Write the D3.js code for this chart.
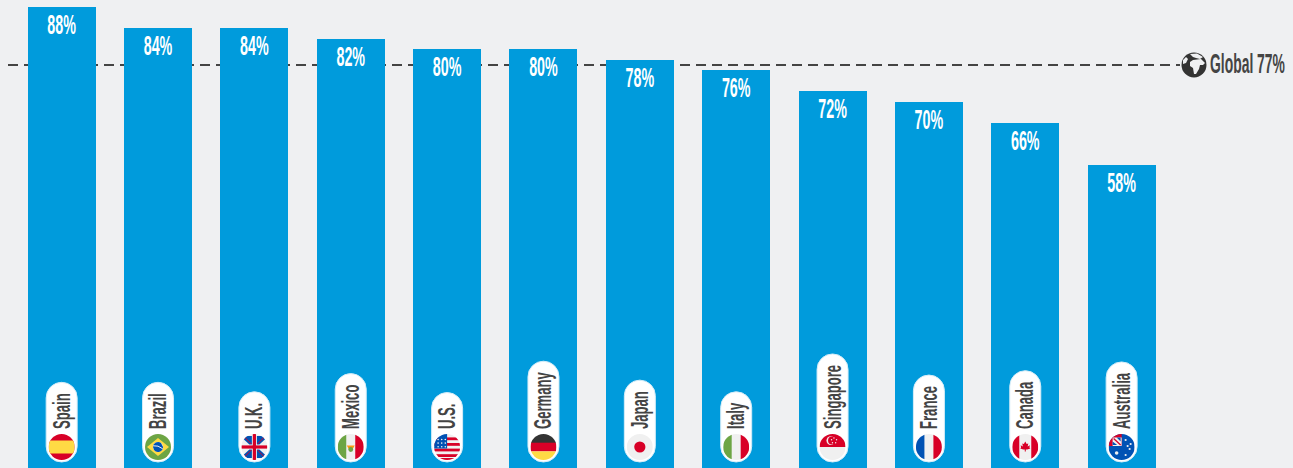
<!DOCTYPE html>
<html>
<head>
<meta charset="utf-8">
<script src="https://cdnjs.cloudflare.com/ajax/libs/d3/7.8.5/d3.min.js"></script>
<style>
  html, body { margin: 0; padding: 0; background: #eff0f2; overflow: hidden; }
  svg { display: block; }
  text { font-family: "Liberation Sans Narrow", "Liberation Sans", sans-serif; font-weight: 700; }
</style>
</head>
<body>
<svg id="chart" width="1293" height="468"></svg>
<script>
const countries = ["Spain", "Brazil", "U.K.", "Mexico", "U.S.", "Germany", "Japan", "Italy", "Singapore", "France", "Canada", "Australia"];
const shares = [88, 84, 84, 82, 80, 80, 78, 76, 72, 70, 66, 58];
const globalShare = 77;
const globalLabel = "Global 77%";

const BAR = "#009bdc", PAPER = "#eff0f2", INK = "#444444";
const RED = "#d80027", BLUE = "#0052b4", GREEN = "#6da544", YELLOW = "#ffda44", OFF = "#f0f0f0";

const svg = d3.select("#chart");
const x = d3.scaleBand().domain(countries).range([27.65, 1155.65]).paddingInner(0.294);
const y = d3.scaleLinear().domain([0, 88]).range([470.5, 7]);
const defs = svg.append("defs");
defs.append("clipPath").attr("id", "disc").append("circle").attr("r", 13);

// Dashed global reference line, running behind the bars
svg.append("line")
  .attr("x1", 8).attr("x2", 1180)
  .attr("y1", y(globalShare)).attr("y2", y(globalShare))
  .attr("stroke", INK).attr("stroke-width", 2).attr("stroke-dasharray", "10 6");

const bars = svg.selectAll("g.bar").data(countries.map((c, i) => ({ c, v: shares[i] })))
  .join("g").attr("class", "bar")
  .attr("transform", d => `translate(${x(d.c)},0)`);

bars.append("rect")
  .attr("y", d => y(d.v))
  .attr("width", x.bandwidth())
  .attr("height", d => y(0) - y(d.v))
  .attr("shape-rendering", "crispEdges")
  .attr("fill", BAR);

const mid = x.bandwidth() / 2;

// Percentage labels, squeezed horizontally for a tall condensed look
bars.append("text")
  .attr("transform", d => `translate(${mid},${y(d.v) + 27}) scale(0.53,1)`)
  .attr("text-anchor", "middle")
  .attr("font-size", 27)
  .attr("fill", "#fff")
  .text(d => d.v + "%");

// Rotated name pills with the flag at their foot
const PILL_W = 31, PILL_BOTTOM = 462, TEXT_FOOT = 429, NAME_SCALE = 0.57;
const pills = bars.append("g");
pills.append("rect")
  .attr("x", mid - PILL_W / 2).attr("width", PILL_W).attr("rx", PILL_W / 2)
  .attr("fill", "#fff").attr("stroke", "#d4ecf8").attr("stroke-width", 1);
const names = pills.append("text")
  .attr("transform", `translate(${mid + 8},${TEXT_FOOT}) rotate(-90) scale(${NAME_SCALE},1)`)
  .attr("font-size", 23)
  .attr("fill", INK)
  .text(d => d.c);
names.each(function () {
  const len = this.getComputedTextLength() * NAME_SCALE;
  const top = TEXT_FOOT - len - 11;
  d3.select(this.parentNode).select("rect").attr("y", top).attr("height", PILL_BOTTOM - top);
});

// Flag artwork in a local frame centred on the disc, radius 13
const flagArt = {
  "Spain": g => {
    band(g, -13, 26, RED); band(g, -6.5, 13, YELLOW);
  },
  "Brazil": g => {
    band(g, -13, 26, GREEN);
    g.append("path").attr("d", "M0,-9L11,0L0,9L-11,0Z").attr("fill", YELLOW);
    g.append("circle").attr("r", 5).attr("fill", OFF);
    g.append("path").attr("d", "M-5,0A5,5 0 0 1 3,-4L5,0A5,5 0 0 1 -4,3Z").attr("fill", BLUE);
    g.append("path").attr("d", "M-4.8,-1.2Q0,-2 4.7,1.8").attr("stroke", OFF).attr("stroke-width", 1).attr("fill", "none");
  },
  "U.K.": g => {
    band(g, -13, 26, OFF);
    const blue = ["M-11,-8L-5,-2.5H-2.5V-11H-8Z", "M11,-8L5,-2.5H2.5V-11H8Z", "M-11,8L-5,2.5H-2.5V11H-8Z", "M11,8L5,2.5H2.5V11H8Z"];
    blue.forEach(d => g.append("path").attr("d", d).attr("fill", BLUE));
    const diag = ["M-11,-11L-3,-3", "M11,-11L3,-3", "M-11,11L-3,3", "M11,11L3,3"];
    diag.forEach(d => g.append("path").attr("d", d).attr("stroke", RED).attr("stroke-width", 1));
    g.append("rect").attr("x", -13).attr("y", -1.6).attr("width", 26).attr("height", 3.2).attr("fill", RED);
    g.append("rect").attr("x", -1.6).attr("y", -13).attr("width", 3.2).attr("height", 26).attr("fill", RED);
  },
  "Mexico": g => {
    band(g, -13, 26, OFF);
    g.append("rect").attr("x", -13).attr("y", -13).attr("width", 8.5).attr("height", 26).attr("fill", GREEN);
    g.append("rect").attr("x", 4.5).attr("y", -13).attr("width", 8.5).attr("height", 26).attr("fill", RED);
    g.append("path").attr("d", "M-4,-1.5H4L2,2H-2Z").attr("fill", "#ff9811");
    g.append("circle").attr("cy", 2.5).attr("r", 2.4).attr("fill", GREEN);
  },
  "U.S.": g => {
    band(g, -13, 26, OFF);
    d3.range(0, 4).forEach(i => band(g, -9.6 + i * 5.6, 2.8, RED));
    band(g, 11, 2.5, RED);
    g.append("path").attr("d", "M-13,-13H0V1.5H-13Z").attr("fill", BLUE);
    d3.range(0, 3).forEach(r => d3.range(0, 3).forEach(c =>
      g.append("circle").attr("cx", -9 + c * 3.6).attr("cy", -7.5 + r * 3.6).attr("r", 0.8).attr("fill", OFF)));
  },
  "Germany": g => {
    band(g, -13, 9, "#333333"); band(g, -4.3, 8.7, RED); band(g, 4.4, 8.6, YELLOW);
  },
  "Japan": g => {
    band(g, -13, 26, OFF);
    g.append("circle").attr("r", 5.6).attr("fill", RED);
  },
  "Italy": g => {
    band(g, -13, 26, OFF);
    g.append("rect").attr("x", -13).attr("y", -13).attr("width", 8.5).attr("height", 26).attr("fill", GREEN);
    g.append("rect").attr("x", 4.5).attr("y", -13).attr("width", 8.5).attr("height", 26).attr("fill", RED);
  },
  "Singapore": g => {
    band(g, -13, 26, OFF);
    band(g, -13, 13, RED);
    g.append("circle").attr("cx", -1.8).attr("cy", -6.4).attr("r", 4.3).attr("fill", OFF);
    g.append("circle").attr("cx", -0.5).attr("cy", -6.4).attr("r", 4).attr("fill", RED);
    [[1, -9], [3.6, -7.2], [2.7, -4.2], [-0.5, -4.2], [-1.4, -7.2]].forEach(p =>
      g.append("circle").attr("cx", p[0] + 0.4).attr("cy", p[1]).attr("r", 0.7).attr("fill", OFF));
  },
  "France": g => {
    band(g, -13, 26, OFF);
    g.append("rect").attr("x", -13).attr("y", -13).attr("width", 8.5).attr("height", 26).attr("fill", BLUE);
    g.append("rect").attr("x", 4.5).attr("y", -13).attr("width", 8.5).attr("height", 26).attr("fill", RED);
  },
  "Canada": g => {
    band(g, -13, 26, OFF);
    g.append("rect").attr("x", -13).attr("y", -13).attr("width", 7).attr("height", 26).attr("fill", RED);
    g.append("rect").attr("x", 6).attr("y", -13).attr("width", 7).attr("height", 26).attr("fill", RED);
    g.append("path")
      .attr("d", "M0,-5.5L1.4,-3L3,-3.6L2.4,-0.6L4.6,-1.8L4.2,0.6L5,1.6L2,2.6L0.5,2.4V4.5H-0.5V2.4L-2,2.6L-5,1.6L-4.2,0.6L-4.6,-1.8L-2.4,-0.6L-3,-3.6L-1.4,-3Z")
      .attr("fill", RED);
  },
  "Australia": g => {
    band(g, -13, 26, BLUE);
    g.append("rect").attr("x", -13).attr("y", -13).attr("width", 13).attr("height", 12).attr("fill", RED);
    g.append("rect").attr("x", -9).attr("y", -9.5).attr("width", 9).attr("height", 8.5).attr("fill", OFF);
    g.append("path").attr("d", "M-8,-8.5L-1,-2").attr("stroke", RED).attr("stroke-width", 1.3);
    g.append("path").attr("d", "M-5,-9.5L-1,-9.5L-1,-5.5Z").attr("fill", BLUE);
    g.append("path").attr("d", "M-9,-5.5V-2H-4.5Z").attr("fill", BLUE);
    [[-5, 6], [4, 8], [4, -7], [9, -3], [8, 2], [6, -1]].forEach(p =>
      g.append("circle").attr("cx", p[0]).attr("cy", p[1]).attr("r", p[0] === -5 ? 1.8 : 1.1).attr("fill", OFF));
  }
};

function band(g, top, h, fill) {
  g.append("rect").attr("x", -13).attr("y", top).attr("width", 26).attr("height", h).attr("fill", fill);
}

pills.append("g")
  .attr("transform", `translate(${mid},447)`)
  .attr("clip-path", "url(#disc)")
  .each(function (d) { flagArt[d.c](d3.select(this)); });

// Globe marker and label at the end of the reference line
const marker = svg.append("g").attr("transform", `translate(1194,${y(globalShare)})`);
marker.append("circle").attr("r", 13).attr("fill", PAPER).attr("stroke", "#333333").attr("stroke-width", 0);
marker.append("circle").attr("r", 12.5).attr("fill", "#333333");
marker.append("path")
  .attr("d", "M-4,-11L3,-11.5L9,-8L6,-6L2,-7L-1,-8ZM-1,-5L7,-6L11,-2L9,0L6,0L5,4L2,9L0,9L-1,3L-4,1L-4,-3ZM-11,-5L-8,-8L-6,-6L-8,-2L-11,-1Z")
  .attr("fill", PAPER);
svg.append("text")
  .attr("transform", `translate(1210,${y(globalShare) + 8.5}) scale(0.515,1)`)
  .attr("font-size", 27)
  .attr("fill", INK)
  .text(globalLabel);
</script>
</body>
</html>
